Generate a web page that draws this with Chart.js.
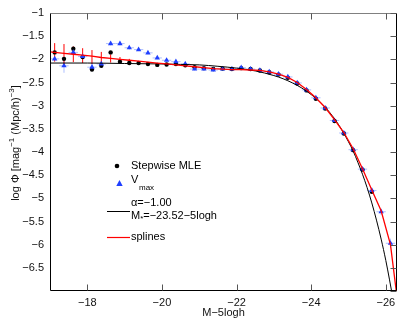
<!DOCTYPE html>
<html><head><meta charset="utf-8">
<script src="https://cdn.jsdelivr.net/npm/chart.js@4/dist/chart.umd.min.js"></script>
<style>html,body{margin:0;padding:0;background:#fff;}</style>
</head><body>
<canvas id="c" width="407" height="322"></canvas>
<script>
// ---- data ----
const binM = [-17.125,-17.375,-17.625,-17.875,-18.125,-18.375,-18.625,-18.875,-19.125,-19.375,
  -19.625,-19.875,-20.125,-20.375,-20.625,-20.875,-21.125,-21.375,-21.625,-21.875,
  -22.125,-22.375,-22.625,-22.875,-23.125,-23.375,-23.625,-23.875,-24.125,-24.375,
  -24.625,-24.875,-25.125,-25.375,-25.625,-25.875,-26.125];
const mleLogPhi = [-1.85,-1.99,-1.77,-1.95,-2.22,-2.14,-1.85,-2.05,-2.08,-2.08,
  -2.10,-2.12,-2.11,-2.10,-2.13,-2.17,-2.19,-2.21,-2.20,-2.21,
  -2.19,-2.21,-2.24,-2.28,-2.33,-2.40,-2.52,-2.67,-2.85,-3.06,
  -3.33,-3.60,-3.96,-4.38,-4.86,null,null];
const vmaxLogPhi = [-1.99,-2.14,-1.85,-1.94,-2.17,-2.10,-1.66,-1.66,-1.75,-1.79,
  -1.86,-1.97,-2.02,-2.05,-2.10,-2.21,-2.21,-2.23,-2.21,-2.21,
  -2.18,-2.21,-2.24,-2.27,-2.32,-2.38,-2.51,-2.66,-2.83,-3.05,
  -3.32,-3.59,-3.95,-4.37,-4.83,-5.29,-5.97];
const vmaxErr = [0.05,0.15,0.05,0.06,0.09,0.05,0.04,0.04,0.04,0.03,
  0.03,0.03,0.03,0.03,0.03,0.03,0.03,0.03,0.03,0.03,
  0.03,0.03,0.03,0.03,0.03,0.03,0.03,0.03,0.03,0.03,
  0.03,0.04,0.04,0.04,0.05,0.07,0.10];
const splineM = [-17.0,-17.125,-17.375,-17.625,-17.875,-18.125,-18.375,-18.625,-18.875,-19.125,
  -19.375,-19.625,-19.875,-20.125,-20.375,-20.625,-20.875,-21.125,-21.375,-21.625,
  -21.875,-22.125,-22.375,-22.625,-22.875,-23.125,-23.375,-23.625,-23.875,-24.125,
  -24.375,-24.625,-24.875,-25.125,-25.375,-25.625,-25.875,-26.125,-26.28];
const splineLogPhi = [-1.84,-1.85,-1.87,-1.89,-1.91,-1.93,-1.96,-1.98,-2.00,-2.02,
  -2.04,-2.06,-2.08,-2.10,-2.12,-2.14,-2.16,-2.18,-2.20,-2.21,
  -2.22,-2.22,-2.23,-2.24,-2.27,-2.32,-2.39,-2.50,-2.65,-2.83,
  -3.04,-3.30,-3.58,-3.93,-4.36,-4.82,-5.27,-6.00,-7.00];
const splineErrM = [-17.125,-17.375,-17.625,-17.875,-18.125,-18.375,-18.625,-18.875,-19.125];
const splineErrCenter = [-1.85,-1.90,-1.89,-1.92,-1.95,-1.97,-1.98,-2.00,-2.02];
const splineErrHalf = [0.20,0.23,0.17,0.16,0.15,0.13,0.09,0.05,0.03];
const schechterM = [-17,-18,-19,-20,-20.5,-21,-21.5,-22,-22.5,-23,-23.25,-23.5,-23.75,-24,-24.25,
  -24.5,-24.75,-25,-25.125,-25.25,-25.375,-25.5,-25.625,-25.75,-25.875,-26,-26.1,-26.15,-26.2];
const schechterLogPhi = [-2.08,-2.08,-2.09,-2.10,-2.11,-2.12,-2.15,-2.19,-2.25,-2.35,-2.42,-2.51,-2.62,-2.76,-2.93,
  -3.15,-3.43,-3.78,-3.98,-4.22,-4.48,-4.77,-5.10,-5.47,-5.88,-6.34,-6.76,-6.98,-7.21];
const xTicks = [-18,-20,-22,-24,-26];
const yTicks = [-1,-1.5,-2,-2.5,-3,-3.5,-4,-4.5,-5,-5.5,-6,-6.5,-7];

const FONT = '"Liberation Sans", Arial, Helvetica, sans-serif';
const fmt = v => (v < 0 ? '\u2212' : '') + String(Math.abs(v));
const pts = (xs, ys) => xs.map((m, i) => ({x: m, y: ys[i]})).filter(p => p.y !== null);

const decor = {
  id: 'decor',
  beforeDatasetsDraw(chart) {
    const {ctx, scales: {x, y}} = chart;
    ctx.save();
    ctx.lineWidth = 1;
    ctx.strokeStyle = '#aebfff';
    binM.forEach((m, i) => {
      const v = vmaxLogPhi[i];
      if (v === null) return;
      const px = x.getPixelForValue(m), py = y.getPixelForValue(v);
      ctx.beginPath();
      ctx.moveTo(x.getPixelForValue(m + 0.125), py);
      ctx.lineTo(x.getPixelForValue(m - 0.125), py);
      ctx.moveTo(px, y.getPixelForValue(v + vmaxErr[i]));
      ctx.lineTo(px, y.getPixelForValue(v - vmaxErr[i]));
      ctx.stroke();
    });
    ctx.strokeStyle = '#ff0000';
    splineErrM.forEach((m, i) => {
      const px = x.getPixelForValue(m);
      ctx.beginPath();
      ctx.moveTo(px, y.getPixelForValue(splineErrCenter[i] + splineErrHalf[i]));
      ctx.lineTo(px, y.getPixelForValue(splineErrCenter[i] - splineErrHalf[i]));
      ctx.stroke();
    });
    ctx.restore();
  },
  afterDraw(chart) {
    const {ctx, chartArea: a, scales: {x, y}} = chart;
    const L = Math.round(a.left) + 0.5, R = Math.round(a.right) - 0.5;
    const T = Math.round(a.top) + 0.5, B = Math.round(a.bottom) - 0.5;
    ctx.save();
    ctx.lineWidth = 1;
    // frame
    ctx.strokeStyle = '#808080';
    ctx.beginPath(); ctx.moveTo(L, T); ctx.lineTo(R, T); ctx.stroke();
    ctx.strokeStyle = '#000';
    ctx.beginPath(); ctx.moveTo(L, T); ctx.lineTo(L, B); ctx.lineTo(R, B); ctx.lineTo(R, T); ctx.stroke();
    // inward ticks
    ctx.strokeStyle = '#555';
    ctx.beginPath();
    x.ticks.forEach(t => {
      const px = Math.round(x.getPixelForValue(t.value)) + 0.5;
      ctx.moveTo(px, B); ctx.lineTo(px, B - 6);
      ctx.moveTo(px, T); ctx.lineTo(px, T + 6);
    });
    y.ticks.forEach(t => {
      const py = Math.round(y.getPixelForValue(t.value)) + 0.5;
      ctx.moveTo(R, py); ctx.lineTo(R - 6, py);
    });
    ctx.stroke();

    // axis titles
    ctx.fillStyle = '#111';
    ctx.font = '11px ' + FONT;
    ctx.textAlign = 'center'; ctx.textBaseline = 'middle';
    ctx.fillText('M\u22125logh', (a.left + a.right) / 2, 313);

    // y title with superscripts (rotated)
    const segs = [
      {t: 'log \u03A6 [mag', s: false}, {t: '\u22121', s: true},
      {t: ' (Mpc/h)', s: false}, {t: '\u22123', s: true}, {t: ']', s: false}];
    const fMain = '11px ' + FONT, fSup = '8px ' + FONT;
    let tw = 0;
    segs.forEach(sg => { ctx.font = sg.s ? fSup : fMain; sg.w = ctx.measureText(sg.t).width; tw += sg.w; });
    ctx.save();
    ctx.translate(18.5, 143);
    ctx.rotate(-Math.PI / 2);
    ctx.textAlign = 'left'; ctx.textBaseline = 'alphabetic';
    let cx = -tw / 2;
    segs.forEach(sg => {
      ctx.font = sg.s ? fSup : fMain;
      ctx.fillText(sg.t, cx, sg.s ? -5 : 0);
      cx += sg.w;
    });
    ctx.restore();

    // legend
    const lx = a.left, ly = a.top;
    ctx.font = '11px ' + FONT;
    ctx.textAlign = 'left'; ctx.textBaseline = 'middle';
    ctx.fillStyle = '#000';
    ctx.beginPath(); ctx.arc(lx + 67, ly + 153, 2.3, 0, Math.PI * 2); ctx.fill();
    ctx.fillText('Stepwise MLE', lx + 81, ly + 153);
    ctx.fillStyle = '#1f3fff';
    ctx.beginPath();
    ctx.moveTo(lx + 69.5, ly + 167); ctx.lineTo(lx + 72.7, ly + 173); ctx.lineTo(lx + 66.3, ly + 173);
    ctx.closePath(); ctx.fill();
    ctx.fillStyle = '#000';
    ctx.fillText('V', lx + 81, ly + 167);
    ctx.font = '8px ' + FONT;
    ctx.fillText('max', lx + 89, ly + 175);
    ctx.font = '11px ' + FONT;
    ctx.fillText('\u03B1=\u22121.00', lx + 81, ly + 190);
    ctx.fillText('M', lx + 81, ly + 203);
    const mw = ctx.measureText('M').width;
    ctx.font = '8px ' + FONT;
    ctx.fillText('*', lx + 81 + mw, ly + 206);
    const sw = ctx.measureText('*').width;
    ctx.font = '11px ' + FONT;
    ctx.fillText('=\u221223.52\u22125logh', lx + 81 + mw + sw, ly + 203);
    ctx.lineWidth = 1;
    ctx.strokeStyle = '#000';
    ctx.beginPath(); ctx.moveTo(lx + 57, ly + 198.5); ctx.lineTo(lx + 80, ly + 198.5); ctx.stroke();
    ctx.strokeStyle = '#ff0000';
    ctx.lineWidth = 1.2;
    ctx.beginPath(); ctx.moveTo(lx + 57, ly + 224.5); ctx.lineTo(lx + 80, ly + 224.5); ctx.stroke();
    ctx.fillText('splines', lx + 81, ly + 224);
    ctx.restore();
  }
};

new Chart(document.getElementById('c'), {
  type: 'scatter',
  data: {
    datasets: [
      {label: 'splines', data: pts(splineM, splineLogPhi), showLine: true, borderColor: '#ff0000',
        borderWidth: 1.3, pointRadius: 0, tension: 0, order: 0},
      {label: 'Schechter', data: pts(schechterM, schechterLogPhi), showLine: true, borderColor: '#000',
        borderWidth: 1, pointRadius: 0, cubicInterpolationMode: 'monotone', order: 1},
      {label: 'Vmax', data: pts(binM, vmaxLogPhi), pointStyle: 'triangle', pointRadius: 3.1,
        backgroundColor: '#1f3fff', borderColor: '#1f3fff', borderWidth: 0, order: 2},
      {label: 'Stepwise MLE', data: pts(binM, mleLogPhi), pointStyle: 'circle', pointRadius: 2.2,
        backgroundColor: '#000', borderColor: '#000', borderWidth: 0, order: 3}
    ]
  },
  options: {
    responsive: false, animation: false, devicePixelRatio: 1,
    layout: {padding: {left: 0, top: 13, right: 10, bottom: 0}},
    plugins: {legend: {display: false}, tooltip: {enabled: false}},
    scales: {
      x: {
        type: 'linear', min: -26.3, max: -17, reverse: true,
        grid: {display: false, drawTicks: false}, border: {display: false},
        ticks: {font: {family: FONT, size: 11}, color: '#111', padding: 5, maxRotation: 0, autoSkip: false,
          callback: v => fmt(v)},
        afterBuildTicks: s => { s.ticks = xTicks.map(v => ({value: v})); },
        afterFit: s => { s.height = 31; }
      },
      y: {
        type: 'linear', min: -7, max: -1,
        grid: {display: false, drawTicks: false}, border: {display: false},
        ticks: {font: {family: FONT, size: 11}, color: '#111', padding: 6, autoSkip: false,
          callback: v => (v === -7 ? '' : fmt(v))},
        afterBuildTicks: s => { s.ticks = yTicks.map(v => ({value: v})); },
        afterFit: s => { s.width = 50; }
      }
    }
  },
  plugins: [decor]
});
</script>
</body></html>
